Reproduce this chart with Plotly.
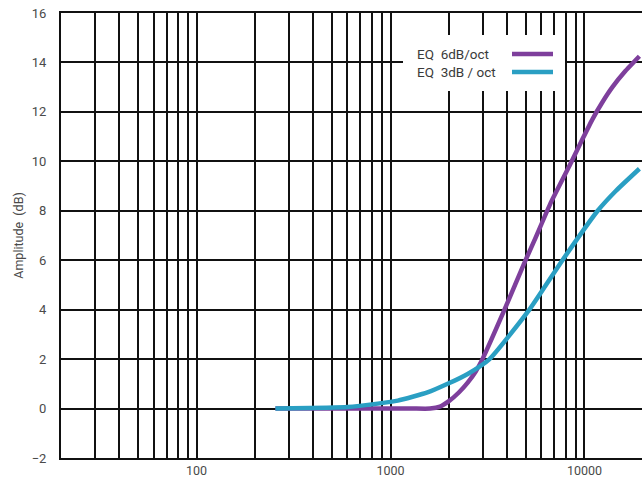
import math
import plotly.graph_objects as go

# ---- data ----
freq_3db = [255, 470, 600, 860, 1090, 1550, 1970, 2500, 3240, 5200, 7700, 11700, 14500, 19200]
amp_3db = [0, 0.03, 0.06, 0.2, 0.32, 0.65, 1.0, 1.4, 2.0, 4.0, 6.0, 8.0, 8.8, 9.7]

freq_6db = [255, 800, 1300, 1600, 1800, 2000, 2250, 2500, 2750, 3000, 3870, 4970, 5520, 6680, 8470,
            9770, 10990, 12390, 13930, 16250, 19200]
amp_6db = [0, 0, 0, 0, 0.08, 0.3, 0.65, 1.05, 1.5, 2.05, 4.0, 6.0, 6.8, 8.3, 9.9,
           10.9, 11.7, 12.4, 13.0, 13.65, 14.25]

series_names = ["EQ\u00a0 6dB/oct", "EQ\u00a0 3dB / oct"]
series_colors = ["#7e3f9c", "#2a9fc3"]

x_grid = [20, 30, 40, 50, 60, 70, 80, 90,
          100, 200, 300, 400, 500, 600, 700, 800, 900,
          1000, 2000, 3000, 4000, 5000, 6000, 7000, 8000, 9000, 10000]
x_labels = {100: "100", 1000: "1000", 10000: "10000"}
y_ticks = [-2, 0, 2, 4, 6, 8, 10, 12, 14, 16]

FONT = "Roboto, 'Noto Sans', sans-serif"
TXT = "#4a4a4a"

fig = go.Figure()
fig.add_trace(go.Scatter(x=freq_6db, y=amp_6db, mode="lines", name=series_names[0],
                         line=dict(color=series_colors[0], width=4.5, shape="spline", smoothing=0.4),
                         showlegend=False))
fig.add_trace(go.Scatter(x=freq_3db, y=amp_3db, mode="lines", name=series_names[1],
                         line=dict(color=series_colors[1], width=4.5, shape="spline", smoothing=0.5),
                         showlegend=False))

# plot-area geometry
W, H = 642, 479
L, R, T, B = 61, 0, 13, 21
pw, ph = W - L - R, H - T - B

def px(x):
    return (x - L) / pw

def py(y):
    return (H - B - y) / ph

# custom legend (text left, line sample right) with white backing
shapes = [dict(type="rect", xref="paper", yref="paper",
               x0=px(403), x1=px(565), y0=py(91), y1=py(35),
               fillcolor="white", line=dict(width=0), layer="above")]
annotations = []
for i, (nm, col) in enumerate(zip(series_names, series_colors)):
    yy = py(54 + 18 * i)
    shapes.append(dict(type="line", xref="paper", yref="paper",
                       x0=px(512), x1=px(553), y0=yy, y1=yy,
                       line=dict(color=col, width=4.5), layer="above"))
    annotations.append(dict(xref="paper", yref="paper", x=px(415), y=yy,
                            text=nm, showarrow=False, xanchor="left", yanchor="middle",
                            font=dict(family=FONT, size=13.5, color="#3a3a3a")))

fig.update_layout(
    width=W, height=H,
    margin=dict(l=L, r=R, t=T, b=B, pad=0),
    paper_bgcolor="white", plot_bgcolor="white",
    font=dict(family=FONT, size=12.5, color=TXT),
    shapes=shapes, annotations=annotations,
    showlegend=False,
)
fig.update_xaxes(
    type="log", range=[math.log10(20), math.log10(19800)],
    tickmode="array", tickvals=x_grid,
    ticktext=[x_labels.get(v, "") for v in x_grid],
    showgrid=True, gridcolor="#111", gridwidth=2,
    showline=True, linecolor="#111", linewidth=2, mirror=True,
    ticks="", ticklabelstandoff=0,
    tickfont=dict(family=FONT, size=12.5, color=TXT),
    zeroline=False,
)
fig.update_yaxes(
    range=[-2, 16], tickmode="array", tickvals=y_ticks,
    showgrid=True, gridcolor="#111", gridwidth=2,
    zeroline=False,
    showline=True, linecolor="#111", linewidth=2, mirror=False,
    ticks="", ticklabelstandoff=10,
    tickfont=dict(family=FONT, size=13, color=TXT),
    title=dict(text="Amplitude  (dB)", standoff=5,
               font=dict(family=FONT, size=12.5, color=TXT)),
)

fig.write_html("out.html", config={"displayModeBar": False},
               post_script="document.body.style.margin='0px';document.body.style.overflow='hidden';")
